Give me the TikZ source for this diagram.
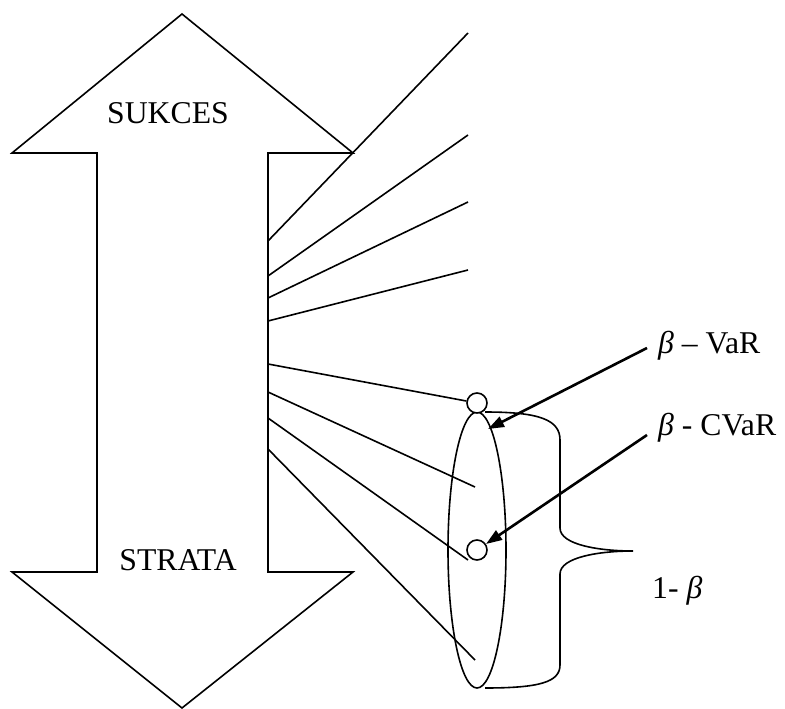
\documentclass[tikz,border=0pt]{standalone}
\usepackage{fontspec}
\setmainfont{Liberation Serif}
\usetikzlibrary{arrows.meta,shapes.geometric}
\tikzset{
  thinline/.style={line width=1.6pt, line join=miter},
  dot/.style={circle, draw, line width=1.6pt, fill=white, minimum size=20pt, inner sep=0pt},
  pointer/.style={line width=2.6pt, -{Triangle[length=16pt,width=11pt]}},
  label/.style={inner sep=0pt, font=\fontsize{31.7}{38}\selectfont}
}
\begin{document}
\begin{tikzpicture}[x=1pt, y=-1pt]
  \useasboundingbox (0,0) rectangle (785,709);

  % Double arrow
  \draw[thinline] (182,14) -- (353,153) -- (268,153) -- (268,572) -- (353,572)
    -- (182,708) -- (12,572) -- (97,572) -- (97,153) -- (12,153) -- cycle;
  \node[label, anchor=base] (sukces) at (168,123) {SUKCES};
  \node[label, anchor=base] (strata) at (178,570) {STRATA};

  % Upper fan
  \coordinate (u1) at (268,241);
  \coordinate (u2) at (268,276);
  \coordinate (u3) at (268,298);
  \coordinate (u4) at (268,321);
  \draw[thinline] (u1) -- (468,33);
  \draw[thinline] (u2) -- (468,135);
  \draw[thinline] (u3) -- (468,202);
  \draw[thinline] (u4) -- (468,270);

  % Distribution tail
  \draw[thinline] (477,550) ellipse (29 and 138);
  \node[dot] (var) at (477,403) {};
  \node[dot] (cvar) at (477,550) {};

  % Lower fan
  \coordinate (l1) at (268,364);
  \coordinate (l2) at (268,392);
  \coordinate (l3) at (268,418);
  \coordinate (l4) at (268,449);
  \draw[thinline] (l1) -- (var);
  \draw[thinline] (l2) -- (475,487);
  \draw[thinline] (l3) -- (468,560);
  \draw[thinline] (l4) -- (475,660);

  % Brace
  \draw[thinline] (485,412) .. controls (540,412) and (560,420) .. (560,440) -- (560,528)
    .. controls (560,545) and (600,551) .. (633,551)
    .. controls (600,551) and (560,557) .. (560,574) -- (560,665)
    .. controls (560,682) and (540,688) .. (485,688);

  % Labels
  \node[label, anchor=base west] (varlab) at (658,353) {{\itshape β} – VaR};
  \node[label, anchor=base west] (cvarlab) at (658,435) {{\itshape β} - CVaR};
  \node[label, anchor=base west] (betalab) at (652,598) {1- {\itshape β}};

  % Pointers
  \coordinate (p1) at (647,348);
  \coordinate (p2) at (647,435);
  \coordinate (t1) at (488,429);
  \coordinate (t2) at (486,544);
  \draw[pointer] (p1) -- (t1);
  \draw[pointer] (p2) -- (t2);
\end{tikzpicture}
\end{document}
